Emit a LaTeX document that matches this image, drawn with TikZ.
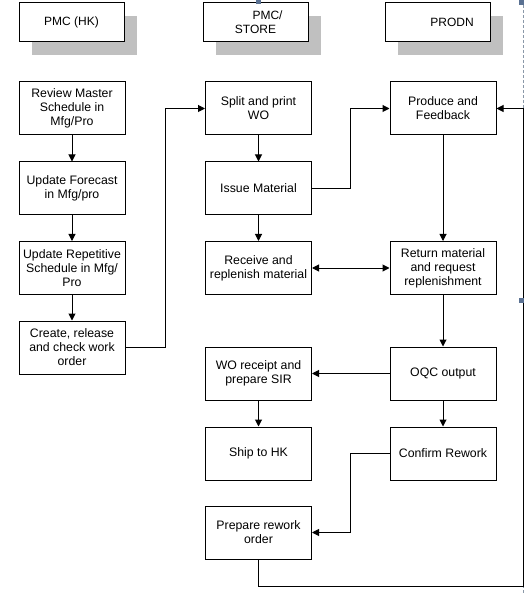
\documentclass[tikz,border=0pt]{standalone}
\usepackage{fontspec}
\setmainfont{Liberation Sans}
\usetikzlibrary{arrows.meta}
\definecolor{shadowgray}{HTML}{C0C0C0}
\definecolor{handleblue}{HTML}{5A7192}
\definecolor{selgray}{HTML}{8A98A8}
\begin{document}
\begin{tikzpicture}[x=1pt,y=-1pt,
  box/.style={draw=black,line width=1pt,fill=white,minimum width=106pt,minimum height=53pt,
    inner sep=1pt,align=center,font=\fontsize{12.3}{14}\selectfont},
  head/.style={draw=black,line width=1pt,fill=white,minimum width=105pt,minimum height=39pt,
    inner sep=1pt,align=center,font=\fontsize{12}{14}\selectfont},
  conn/.style={line width=1pt,-{Triangle[length=7pt,width=7pt]}},
  dconn/.style={line width=1pt,{Triangle[length=7pt,width=7pt]}-{Triangle[length=7pt,width=7pt]}},
  plain/.style={line width=1pt}]
\useasboundingbox (0,0) rectangle (529,593);
% selection frame
\draw[selgray,line width=0.8pt,dash pattern=on 3pt off 2pt] (523,0) -- (523,593);
% header shadows
\fill[shadowgray] (31.5,16) rectangle (136.5,55);
\fill[shadowgray] (215.5,16) rectangle (320.5,55);
\fill[shadowgray] (398,16) rectangle (503,55);
% headers
\node[head] (h1) at (71.5,22.5) {PMC (HK)};
\node[head] (h2) at (255.5,22.5) {\hspace*{24pt}PMC/\\STORE};
\node[head] (h3) at (438,22.5) {\hspace*{28pt}PRODN};
% left column
\node[box] (rev) at (72,108.5) {Review Master\\Schedule in\\Mfg/Pro};
\node[box] (fore) at (72,188.5) {Update Forecast\\in Mfg/pro};
\node[box] (rep) at (72,268) {Update Repetitive\\Schedule in Mfg/\\Pro};
\node[box] (cre) at (72,347.5) {Create, release\\and check work\\order};
% middle column
\node[box] (split) at (258.5,108.5) {Split and print\\WO};
\node[box] (issue) at (258.5,188.5) {Issue Material};
\node[box] (recv) at (258.5,268) {Receive and\\replenish material};
\node[box] (wor) at (258.5,373.5) {WO receipt and\\prepare SIR};
\node[box] (ship) at (258.5,453.5) {Ship to HK};
\node[box] (prep) at (258.5,532.5) {Prepare rework\\order};
% right column
\node[box] (prod) at (443,108.5) {Produce and\\Feedback};
\node[box] (ret) at (443,268) {Return material\\and request\\replenishment};
\node[box] (oqc) at (443,373.5) {OQC output};
\node[box] (conf) at (443,453.5) {Confirm Rework};
% connectors
\draw[conn] (rev) -- (fore);
\draw[conn] (fore) -- (rep);
\draw[conn] (rep) -- (cre);
\draw[conn] (cre.east) -- (165,347.5) -- (165,108.5) -- (split.west);
\draw[conn] (split) -- (issue);
\draw[conn] (issue) -- (recv);
\draw[conn] (issue.east) -- (350,188.5) -- (350,108.5) -- (prod.west);
\draw[conn] (prod) -- (ret);
\draw[dconn] (recv) -- (ret);
\draw[conn] (ret) -- (oqc);
\draw[conn] (oqc) -- (wor);
\draw[conn] (wor) -- (ship);
\draw[conn] (oqc) -- (conf);
\draw[conn] (conf.west) -- (350,453.5) -- (350,532.5) -- (prep.east);
\coordinate (c1) at (258.5,586);
\coordinate (c2) at (523,586);
\coordinate (c3) at (523,108.5);
\draw[conn] (prep.south) -- (c1) -- (c2) -- (c3) -- (prod.east);
% selection handles
\fill[handleblue] (256,0) rectangle (261,4);
\fill[handleblue] (519,0) rectangle (524,5);
\fill[handleblue] (519,298) rectangle (524,303);
\end{tikzpicture}
\end{document}
